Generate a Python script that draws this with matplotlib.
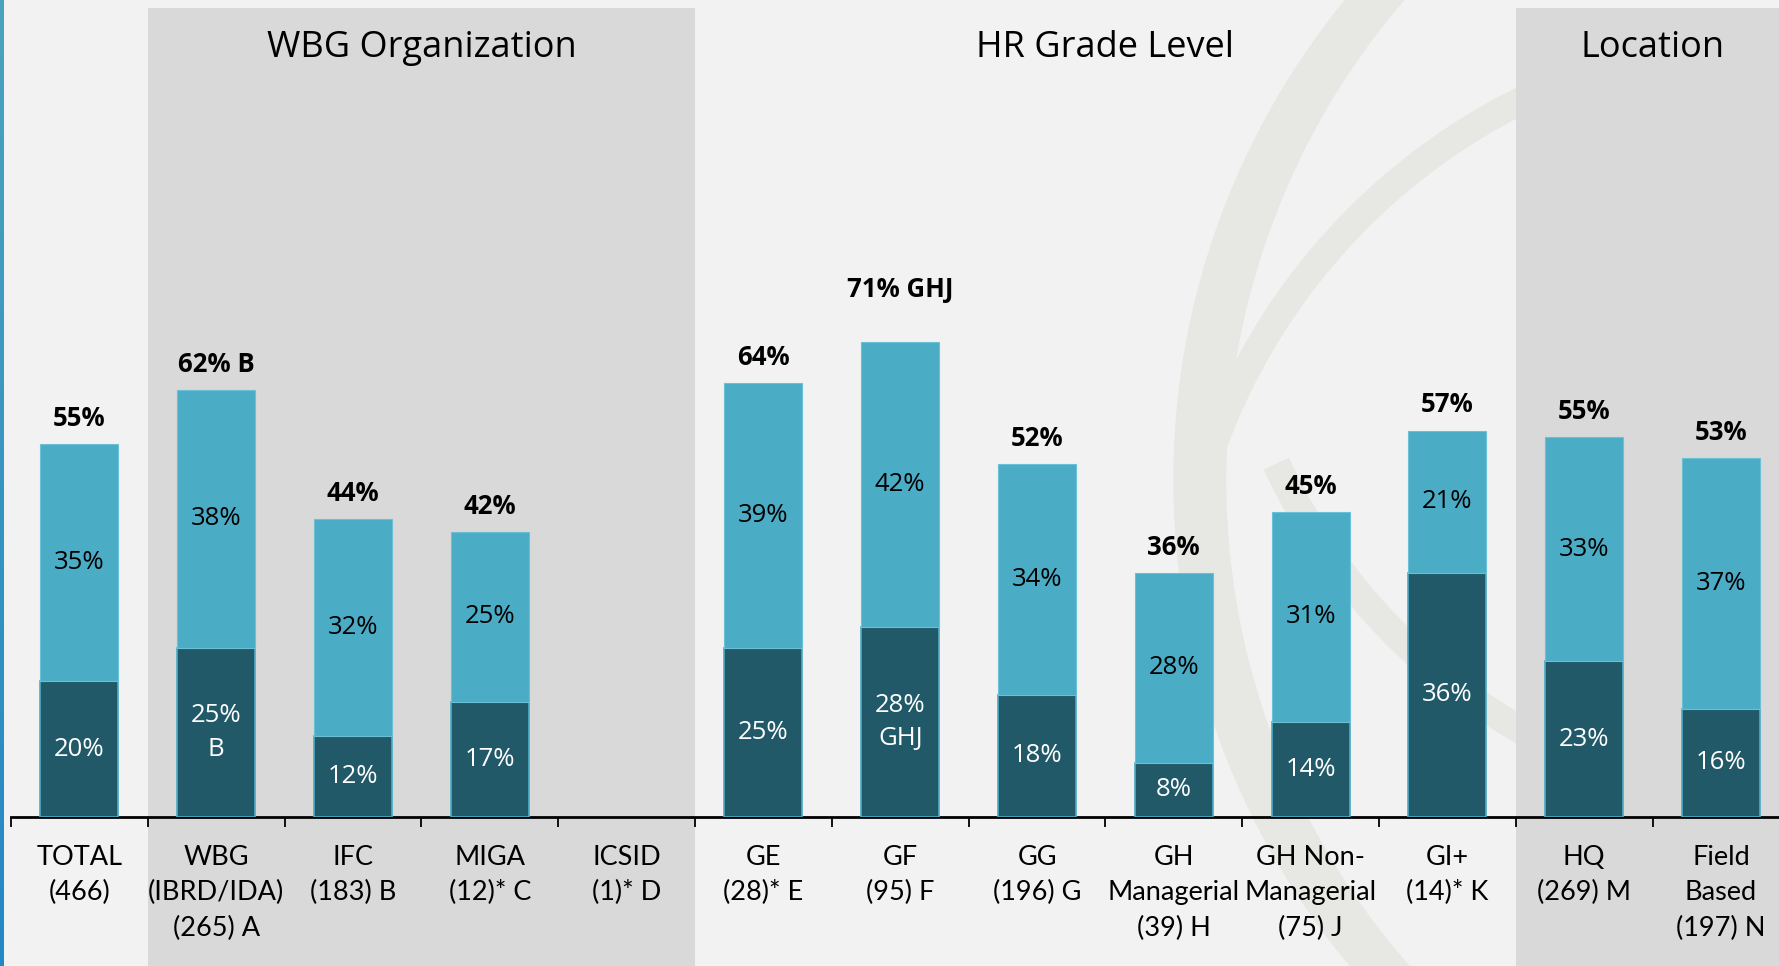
import numpy as np
import matplotlib.pyplot as plt
from matplotlib.patches import Rectangle, Circle, Arc
from matplotlib.colors import LinearSegmentedColormap
from matplotlib.transforms import blended_transform_factory

# Dados
categorias = [
    "TOTAL\n(466)", "WBG\n(IBRD/IDA)\n(265) A", "IFC\n(183) B", "MIGA\n(12)* C",
    "ICSID\n(1)* D", "GE\n(28)* E", "GF\n(95) F", "GG\n(196) G",
    "GH\nManagerial\n(39) H", "GH Non-\nManagerial\n(75) J", "GI+\n(14)* K",
    "HQ\n(269) M", "Field\nBased\n(197) N",
]
escuro = [20, 25, 12, 17, None, 25, 28, 18, 8, 14, 36, 23, 16]
claro = [35, 38, 32, 25, None, 39, 42, 34, 28, 31, 21, 33, 37]
total = [55, 62, 44, 42, None, 64, 71, 52, 36, 45, 57, 55, 53]
sufixo_total = ["", " B", "", "", "", "", " GHJ", "", "", "", "", "", ""]
sufixo_escuro = ["", "B", "", "", "", "", "GHJ", "", "", "", "", "", ""]
grupos = ["WBG Organization", "HR Grade Level", "Location"]
grupo_ini = [1, 5, 11]
grupo_fim = [4, 10, 12]

COR_CLARA = "#4BACC6"
COR_ESCURA = "#215968"
FUNDO = "#f2f2f2"
PAINEL = "#d9d9d9"
MARCA = "#e7e7e3"

W, H = 1779, 966
fig = plt.figure(figsize=(W / 100, H / 100), dpi=100, facecolor=FUNDO)

# marca d'agua (globo) ao fundo, em pixels da figura
fundo = fig.add_axes([0, 0, 1, 1], zorder=-10)
fundo.set_xlim(0, W)
fundo.set_ylim(H, 0)
fundo.axis("off")
fundo.add_patch(Circle((1931, 480), 757, color=MARCA))
fundo.add_patch(Circle((1962, 480), 735, color=FUNDO))
fundo.add_patch(Arc((1800, 660), 1250, 1250, theta1=200, theta2=265, color=MARCA, lw=20))
fundo.add_patch(Arc((1820, 210), 1200, 1200, theta1=100, theta2=155, color=MARCA, lw=20))

# eixo: linha base em y=817 px, categorias a cada ~136.8 px a partir de x=11
x0, passo, base = 11, 136.8, 817
px_por_pct = 6.78
ax = fig.add_axes([x0 / W, (H - base) / H, 13 * passo / W, base / H])
ax.set_facecolor("none")
ax.set_xlim(-0.5, 12.5)
ax.set_ylim(0, base / px_por_pct)

x = np.arange(len(categorias))

# paineis cinza dos grupos
blend = blended_transform_factory(ax.transData, fig.transFigure)
topo_painel = (H - 8) / H
for g, (a, b) in enumerate(zip(grupo_ini, grupo_fim)):
    if g != 1:
        ax.add_patch(Rectangle((a - 0.5, 0), b - a + 1, topo_painel, transform=blend,
                               facecolor=PAINEL, edgecolor="none", zorder=-5, clip_on=False))
    ax.text((a + b) / 2, (H - 48) / H, grupos[g], transform=blend, ha="center",
            va="center", fontsize=26, family="Open Sans", color="black")

# faixa azul na esquerda
faixa = fig.add_axes([0, 0, 4 / W, 1])
faixa.imshow(np.linspace(0, 1, 100).reshape(-1, 1), aspect="auto",
             cmap=LinearSegmentedColormap.from_list("f", ["#4aa3bd", "#2488c4"]))
faixa.axis("off")

# barras
largura = 0.57
idx = [i for i in range(len(categorias)) if total[i] is not None]
esc = [escuro[i] for i in idx]
cla = [claro[i] for i in idx]
ax.bar(x[idx], esc, largura, color=COR_ESCURA, edgecolor=COR_CLARA, linewidth=1.2, zorder=3)
ax.bar(x[idx], cla, largura, bottom=esc, color=COR_CLARA, edgecolor="#6cc0d6",
       linewidth=0.8, zorder=3)

for i in idx:
    ax.text(x[i], escuro[i] / 2, f"{escuro[i]}%" + ("\n" + sufixo_escuro[i] if sufixo_escuro[i] else ""),
            ha="center", va="center", color="white", fontsize=18.5, family="Open Sans",
            linespacing=1.45, zorder=4)
    ax.text(x[i], escuro[i] + claro[i] / 2, f"{claro[i]}%", ha="center", va="center",
            color="black", fontsize=18.5, family="Open Sans", zorder=4)
    desloc = 33 if sufixo_total[i] == " GHJ" else 13
    ax.annotate(f"{total[i]}%{sufixo_total[i]}", (x[i], escuro[i] + claro[i]),
                xytext=(0, desloc), textcoords="offset points", ha="center",
                va="baseline", fontsize=18.5, fontweight="bold", family="Open Sans", zorder=4)

for s in ["top", "right", "left"]:
    ax.spines[s].set_visible(False)
ax.spines["bottom"].set_linewidth(2)
ax.set_yticks([])
ax.set_xticks(np.arange(-0.5, 13, 1))
ax.set_xticklabels([])
ax.tick_params(axis="x", which="major", length=7.5, width=1.3, color="black")
ax.set_xticks(x, minor=True)
ax.set_xticklabels(categorias, minor=True, fontsize=19.5, family="Lato", linespacing=1.52)
ax.tick_params(axis="x", which="minor", length=0, pad=20)

fig.savefig("out.png", dpi=100, facecolor=FUNDO)
